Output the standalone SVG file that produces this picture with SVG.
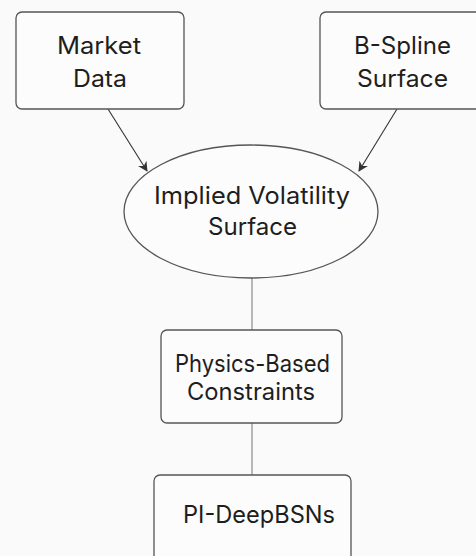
<svg xmlns="http://www.w3.org/2000/svg" width="476" height="556" viewBox="0 0 476 556">
<style>
.box{fill:#fcfcfc;stroke:#555;stroke-width:1.3}
.t{font-family:Inter,"Noto Sans",sans-serif;font-size:24px;fill:#1e1e1e;text-anchor:middle}
.c{stroke:#333;stroke-width:1.1;fill:none}
.l{stroke:#8a8a8a;stroke-width:1.2;fill:none}
</style>
<defs>
<marker id="ah" viewBox="0 0 10 10" refX="9" refY="5" markerWidth="10" markerHeight="10" markerUnits="userSpaceOnUse" orient="auto">
<path d="M0,0 L10,5 L0,10 L3,5 Z" fill="#333"/>
</marker>
</defs>
<rect width="476" height="556" fill="#fafafa"/>
<g id="connectors">
<line class="c" x1="108" y1="109" x2="147" y2="171" marker-end="url(#ah)"/>
<line class="c" x1="397" y1="109" x2="359" y2="171" marker-end="url(#ah)"/>
<line class="l" x1="252" y1="278" x2="252" y2="330"/>
<line class="l" x1="252" y1="423" x2="252" y2="475"/>
</g>
<g id="market-data">
<rect class="box" x="16" y="12" width="168" height="97" rx="6"/>
<text class="t" x="99" y="54" textLength="84" lengthAdjust="spacingAndGlyphs">Market</text>
<text class="t" x="100" y="86.5" textLength="54" lengthAdjust="spacingAndGlyphs">Data</text>
</g>
<g id="b-spline-surface">
<rect class="box" x="320" y="12" width="170" height="97" rx="6"/>
<text class="t" x="402.5" y="54" textLength="97" lengthAdjust="spacingAndGlyphs">B-Spline</text>
<text class="t" x="402.5" y="86.5" textLength="91" lengthAdjust="spacingAndGlyphs">Surface</text>
</g>
<g id="implied-volatility-surface">
<ellipse class="box" cx="251" cy="211.5" rx="127" ry="66.5"/>
<text class="t" x="252" y="203.5" textLength="196" lengthAdjust="spacingAndGlyphs">Implied Volatility</text>
<text class="t" x="252.5" y="235" textLength="89" lengthAdjust="spacingAndGlyphs">Surface</text>
</g>
<g id="physics-based-constraints">
<rect class="box" x="161" y="330" width="181" height="93" rx="6"/>
<text class="t" x="252.5" y="371.5" textLength="155" lengthAdjust="spacingAndGlyphs">Physics-Based</text>
<text class="t" x="251" y="400" textLength="128" lengthAdjust="spacingAndGlyphs">Constraints</text>
</g>
<g id="pi-deepbsns">
<rect class="box" x="154" y="475" width="197" height="100" rx="6"/>
<text class="t" x="259" y="523" textLength="152" lengthAdjust="spacingAndGlyphs">PI-DeepBSNs</text>
</g>
</svg>
